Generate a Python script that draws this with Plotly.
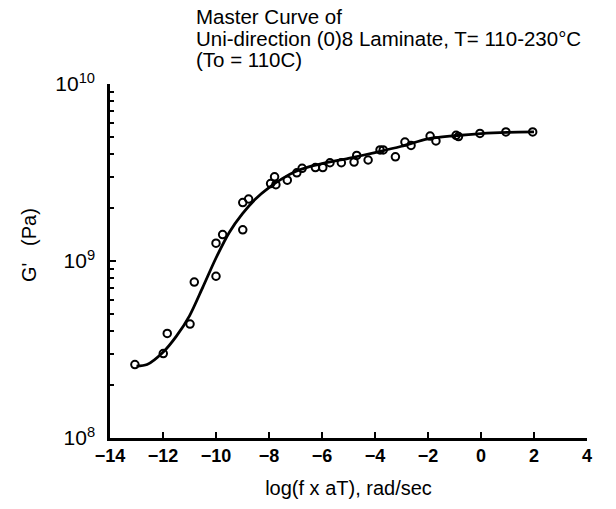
import plotly.graph_objects as go

# Measured data points: log(f x aT) and G' (Pa)
pts_x = [-13.06, -11.99, -11.84, -10.98, -10.82, -10.0, -10.0, -9.75, -8.99, -8.99, -8.77,
         -7.94, -7.79, -7.74, -7.31, -6.95, -6.75, -6.25, -5.97, -5.70, -5.27, -4.79, -4.69,
         -4.26, -3.81, -3.69, -3.23, -2.87, -2.64, -1.92, -1.70, -0.94, -0.85, -0.04, 0.94, 1.95]
pts_y = [2.6e8, 3.0e8, 3.9e8, 4.4e8, 7.6e8, 8.2e8, 1.26e9, 1.41e9, 1.5e9, 2.14e9, 2.24e9,
         2.74e9, 2.99e9, 2.7e9, 2.86e9, 3.15e9, 3.34e9, 3.37e9, 3.37e9, 3.59e9, 3.59e9, 3.62e9, 3.95e9,
         3.72e9, 4.24e9, 4.24e9, 3.88e9, 4.7e9, 4.5e9, 5.08e9, 4.77e9, 5.13e9, 5.05e9, 5.26e9, 5.36e9, 5.36e9]

# Fitted master curve
fit_x = [-13.0, -12.6, -12.0, -11.5, -11.0, -10.5, -10.0, -9.5, -9.0, -8.5, -8.0, -7.5, -7.0,
         -6.5, -6.0, -5.0, -4.0, -3.0, -2.0, -1.0, 0.0, 1.0, 2.0]
fit_y = [2.55e8, 2.6e8, 3.05e8, 3.75e8, 4.9e8, 7.1e8, 1.04e9, 1.45e9, 1.85e9, 2.25e9, 2.6e9,
         2.92e9, 3.2e9, 3.4e9, 3.55e9, 3.8e9, 4.1e9, 4.45e9, 4.9e9, 5.1e9, 5.25e9, 5.33e9, 5.36e9]

x_ticks = [-14, -12, -10, -8, -6, -4, -2, 0, 2, 4]
y_ticks = [1e8, 1e9, 1e10]
y_ticktext = ["10<sup>8</sup>", "10<sup>9</sup>", "10<sup>10</sup>"]
y_minor = [m * 10 ** e for e in (8, 9) for m in range(2, 10)]

title_lines = ["Master Curve of", "Uni-direction (0)8 Laminate, T= 110-230°C", "(To = 110C)"]
title_line_y = [17, 39, 60]  # pixel centres of the title lines

fig = go.Figure()
fig.add_trace(go.Scatter(x=fit_x, y=fit_y, mode="lines",
                         line=dict(color="black", width=2.8, shape="spline", smoothing=0.8),
                         showlegend=False, hoverinfo="skip"))
fig.add_trace(go.Scatter(x=pts_x, y=pts_y, mode="markers",
                         marker=dict(symbol="circle-open", size=7.5, color="black", line=dict(width=2)),
                         showlegend=False))

font_family = "Liberation Sans, Arial, sans-serif"
plot_l, plot_t, plot_w, plot_h = 110, 84, 477, 354

fig.update_layout(
    width=616, height=509,
    margin=dict(l=110, r=29, t=84, b=71),
    paper_bgcolor="white", plot_bgcolor="white",
    font=dict(family=font_family, color="black"),
    xaxis=dict(range=[-14, 4], tickvals=x_ticks, ticks="inside", ticklen=6, tickwidth=2,
               tickcolor="black", showline=True, linecolor="black", linewidth=2.5,
               showgrid=False, zeroline=False,
               tickfont=dict(size=18, family=font_family, weight="bold"),
               title=dict(text="log(f x aT), rad/sec", font=dict(size=20), standoff=16)),
    yaxis=dict(type="log", range=[8, 10], tickvals=y_ticks, ticktext=y_ticktext,
               ticks="inside", ticklen=6, tickwidth=2, tickcolor="black",
               showline=True, linecolor="black", linewidth=2.5, showgrid=False, zeroline=False,
               tickfont=dict(size=21), ticklabelstandoff=8,
               minor=dict(tickvals=y_minor, ticks="inside", ticklen=4, tickwidth=1.5,
                          tickcolor="black", showgrid=False)),
)

for line, ypix in zip(title_lines, title_line_y):
    fig.add_annotation(text=line, xref="paper", yref="paper",
                       x=(195 - plot_l) / plot_w, y=(plot_t + plot_h - ypix) / plot_h,
                       xanchor="left", yanchor="middle", align="left", showarrow=False,
                       borderpad=0, font=dict(size=20.5))
fig.add_annotation(text="G'   (Pa)", xref="paper", yref="paper",
                   x=(29 - plot_l) / plot_w, y=(plot_t + plot_h - 245) / plot_h,
                   xanchor="center", yanchor="middle",
                   textangle=-90, showarrow=False, font=dict(size=20))

fig.write_html("out.html", config={"displayModeBar": False},
               post_script="document.body.style.margin='0';document.body.style.padding='0';")
